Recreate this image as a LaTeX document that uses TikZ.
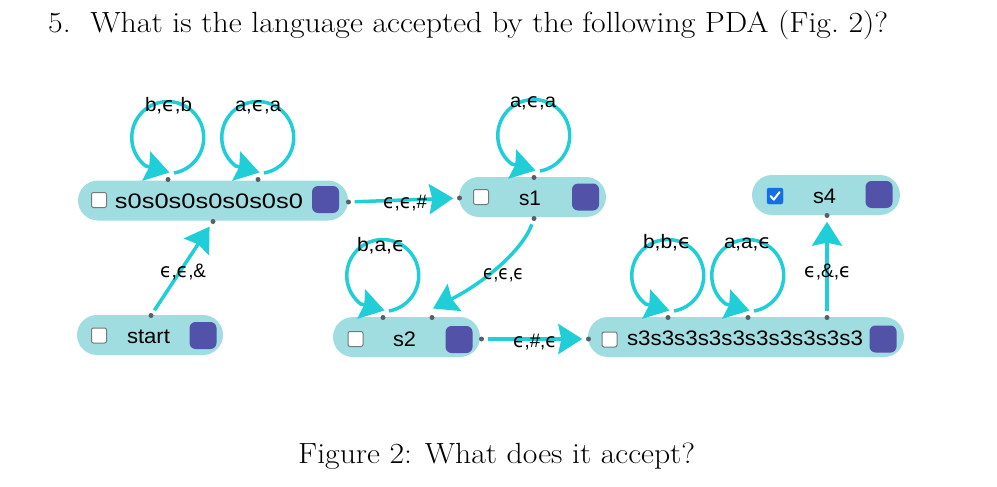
\documentclass[tikz,border=0pt]{standalone}
\usepackage{fontspec}
\usepackage{graphicx}
\newfontfamily\lsans{Liberation Sans}
\newfontfamily\dvs{DejaVu Sans}
\usetikzlibrary{arrows.meta,calc}
\definecolor{pillc}{RGB}{160,221,225}
\definecolor{edgec}{RGB}{32,206,216}
\definecolor{purp}{RGB}{82,82,168}
\definecolor{dotc}{RGB}{85,95,105}
\definecolor{chkb}{RGB}{120,120,120}
\definecolor{chkblue}{RGB}{22,110,230}
\newsavebox\fitbox
\newlength\fitlen
\newcommand\fitx[2]{\sbox\fitbox{#2}\setlength\fitlen{\wd\fitbox}\pgfmathsetmacro\fitsx{#1/\fitlen}\scalebox{\fitsx}[1]{\usebox\fitbox}}
\newcommand\ep{{\dvs ϵ}}
\tikzset{
 pill/.style={draw=none, fill=pillc, rounded corners=20pt, minimum height=40pt, inner sep=0pt},
 chk/.style={draw=chkb, fill=white, line width=1pt, rounded corners=2pt, minimum size=15pt, inner sep=0pt},
 chkon/.style={draw=chkblue, fill=chkblue, rounded corners=2pt, minimum size=16pt, inner sep=0pt},
 sq/.style={fill=purp, rounded corners=6pt, minimum size=27pt, inner sep=0pt},
 pdot/.style={circle, fill=dotc, minimum size=5pt, inner sep=0pt},
 slab/.style={font=\lsans\fontsize{21}{24}\selectfont, inner sep=0pt, anchor=base},
 tlab/.style={font=\lsans\fontsize{19.5}{22}\selectfont, inner sep=0pt, anchor=base},
 atip/.style={-{Stealth[length=24pt,width=30pt,inset=3pt]}},
 edge/.style={draw=edgec, line width=3.5pt, atip, shorten <=3.5pt, shorten >=3.5pt},
 loopedge/.style={draw=edgec, line width=3.5pt, atip},
 ttl/.style={inner sep=0pt, anchor=base west, font=\fontsize{29.2}{35}\selectfont},
}
\begin{document}
\begin{tikzpicture}[x=1pt,y=1pt]
\useasboundingbox (0,0) rectangle (997,-487);
% title and caption
\node[ttl] (title) at (48,-33) {\fitx{840}{5.\hspace{0.62em}What is the language accepted by the following PDA (Fig.~2)?}};
\node[ttl] (caption) at (298,-463) {\fitx{397}{Figure 2: What does it accept?}};
% state s0
\node[pill, minimum width=270pt] (s0) at (213,-200.5) {};
\node[chk] (s0c) at (99,-200) {};
\node[sq] (s0q) at (325.5,-199.5) {};
\node[slab] (s0lab) at (209,-208) {\fitx{188}{s0s0s0s0s0s0s0}};
% state s1
\node[pill, minimum width=147pt] (s1) at (532.5,-197) {};
\node[chk] (s1c) at (481,-197) {};
\node[sq] (s1q) at (585.5,-197) {};
\node[slab] (s1lab) at (530,-205) {\fitx{22}{s1}};
% state s4
\node[pill, minimum width=148pt] (s4) at (826,-195) {};
\node[chkon] (s4c) at (775,-196) {};
\draw[white, line width=2pt, line cap=round, line join=round] ($(s4c)+(-4.5,0)$) -- ($(s4c)+(-1.2,-3.6)$) -- ($(s4c)+(4.5,3.8)$);
\node[sq] (s4q) at (879,-194.5) {};
\node[slab] (s4lab) at (824.5,-203) {\fitx{23}{s4}};
% state start
\node[pill, minimum width=146pt] (st) at (150,-335) {};
\node[chk] (stc) at (99,-335.5) {};
\node[sq] (stq) at (203,-335.5) {};
\node[slab] (stlab) at (148.5,-343) {\fitx{43}{start}};
% state s2
\node[pill, minimum width=147pt] (s2) at (406.5,-337) {};
\node[chk] (s2c) at (355.5,-339) {};
\node[sq] (s2q) at (459,-339.5) {};
\node[slab] (s2lab) at (404.5,-346) {\fitx{23}{s2}};
% state s3
\node[pill, minimum width=316pt] (s3) at (746,-337) {};
\node[chk] (s3c) at (609.5,-339.5) {};
\node[sq] (s3q) at (883,-339) {};
\node[slab] (s3lab) at (745,-345) {\fitx{236}{s3s3s3s3s3s3s3s3s3s3}};
% ports
\node[pdot] (ds0t1) at (168,-179.5) {};
\node[pdot] (ds0t2) at (258,-179.5) {};
\node[pdot] (ds0r) at (348.5,-202) {};
\node[pdot] (ds0b) at (213,-221.5) {};
\node[pdot] (ds1l) at (459.5,-198) {};
\node[pdot] (ds1t) at (534,-177.5) {};
\node[pdot] (ds1b) at (534,-218.5) {};
\node[pdot] (ds4b) at (827,-215.5) {};
\node[pdot] (dstt) at (151,-315.5) {};
\node[pdot] (ds2t1) at (383,-317.5) {};
\node[pdot] (ds2t2) at (432,-317.5) {};
\node[pdot] (ds2r) at (481.5,-339) {};
\node[pdot] (ds3l) at (588.5,-339) {};
\node[pdot] (ds3t1) at (668,-317.5) {};
\node[pdot] (ds3t2) at (748,-317.5) {};
\node[pdot] (ds3t3) at (827,-317.5) {};
% loops
\foreach \d in {ds0t1,ds0t2,ds1t,ds2t1,ds3t1,ds3t2}{
  \draw[loopedge] ($(\d.center)+(6,6.5)$) arc[start angle=-80, end angle=232, radius=36] -- ($(\d.center)+(1.5,7)$);
}
% edges
\draw[edge] (ds0r) -- (ds1l);
\draw[edge] (dstt) -- (ds0b);
\draw[edge, shorten >=0pt] (ds1b) to[out=-110,in=27,out distance=30pt,in distance=60pt] ($(ds2t2)+(1,9)$);
\draw[edge] (ds2r) -- (ds3l);
\draw[edge] (ds3t3) -- (ds4b);
% transition labels
\node[tlab] (l1) at (168.5,-111) {\fitx{47}{b,\ep,b}};
\node[tlab] (l2) at (258,-111) {\fitx{46}{a,\ep,a}};
\node[tlab] (l3) at (533,-107) {\fitx{46}{a,\ep,a}};
\node[tlab] (l4) at (405,-208) {\fitx{44}{\ep,\ep,\#}};
\node[tlab] (l5) at (183,-277) {\fitx{46}{\ep,\ep,\&}};
\node[tlab] (l6) at (381,-251) {\fitx{48}{b,a,\ep}};
\node[tlab] (l7) at (503.5,-279) {\fitx{41}{\ep,\ep,\ep}};
\node[tlab] (l8) at (535,-347) {\fitx{44}{\ep,\#,\ep}};
\node[tlab] (l9) at (667,-248) {\fitx{48}{b,b,\ep}};
\node[tlab] (l10) at (747.5,-248) {\fitx{47}{a,a,\ep}};
\node[tlab] (l11) at (827.5,-277) {\fitx{47}{\ep,\&,\ep}};
\end{tikzpicture}
\end{document}
